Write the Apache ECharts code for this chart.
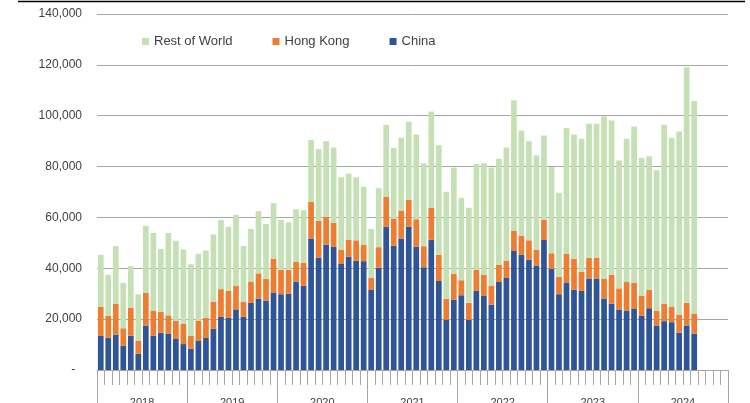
<!DOCTYPE html>
<html>
<head>
<meta charset="utf-8">
<script src="https://cdn.jsdelivr.net/npm/echarts@6/dist/echarts.min.js"></script>
<style>
  html, body { margin: 0; padding: 0; background: #fff; }
  #chart { width: 750px; height: 403px; }
</style>
</head>
<body>
<div id="chart"></div>
<script>
// monthly values, Jan 2018 - Aug 2024
const years = ['2018', '2019', '2020', '2021', '2022', '2023', '2024'];
const china = [
  13400, 12700, 13900, 9600, 13500, 6400, 17500, 13500, 14700, 14200, 12200, 10200,
  8400, 11400, 12600, 16300, 20900, 20500, 23600, 20900, 26400, 28100, 27300, 30500,
  29800, 30000, 34700, 33100, 51700, 44200, 49300, 48500, 41900, 44500, 43000, 42800,
  31500, 40200, 56300, 48900, 51700, 56300, 48500, 40400, 51200, 35000, 19800, 27700,
  29400, 19800, 31100, 29100, 25700, 34600, 36200, 46800, 45300, 43400, 41100, 51300,
  39800, 29800, 34200, 31600, 31100, 36000, 36000, 28100, 26100, 23800, 23400, 24000,
  21300, 24300, 17500, 19200, 18800, 14700, 17500, 14300
];
const hongKong = [
  11400, 8600, 12100, 6800, 11000, 5000, 12800, 9700, 8100, 7300, 7200, 7900,
  5000, 8000, 7900, 10500, 10900, 10700, 9500, 5900, 8200, 9900, 8600, 13300,
  9600, 9400, 7900, 9100, 14400, 14500, 10900, 9400, 5300, 6800, 8000, 6500,
  4700, 8100, 11900, 10700, 11000, 10600, 10800, 8300, 12600, 10300, 8200, 10200,
  5900, 6600, 8300, 8400, 7500, 6700, 6700, 7900, 7400, 7600, 6100, 7700,
  6100, 6800, 11500, 12100, 7600, 8100, 8100, 7700, 11300, 8300, 11200, 10200,
  7800, 7300, 5700, 6800, 6000, 7100, 8900, 7900
];
const restOfWorld = [
  20500, 16100, 22700, 17800, 16300, 18400, 26400, 30700, 24800, 32400, 31400, 29300,
  28200, 26300, 26500, 26500, 27200, 25100, 27900, 22000, 20900, 24400, 21500, 21800,
  19600, 18700, 20600, 20600, 24400, 28200, 29800, 29600, 28600, 25900, 24800, 22700,
  19300, 23200, 28200, 27700, 28600, 30700, 33300, 32600, 37800, 43100, 42100, 41700,
  32400, 37400, 41600, 43800, 46400, 41800, 44600, 51400, 41400, 39000, 37200, 33200,
  33900, 33100, 49400, 48900, 52200, 52700, 52700, 63900, 60700, 50300, 56300, 61600,
  54300, 52500, 55400, 70400, 66500, 72000, 92700, 83600
];

const months = [];
years.forEach(y => {
  for (let m = 1; m <= 12; m++) months.push(y + '-' + String(m).padStart(2, '0'));
});

const chart = echarts.init(document.getElementById('chart'));
const font = 'Liberation Sans, Arial, sans-serif';
const gridColor = '#a6a6a6';

const option = {
  animation: false,
  color: ['#c5e0b4', '#ed7d31', '#2f5597'],
  textStyle: { fontFamily: font },
  legend: {
    data: ['Rest of World', 'Hong Kong', 'China'],
    left: 137,
    top: 30,
    itemWidth: 7,
    itemHeight: 7,
    itemGap: 40,
    icon: 'rect',
    textStyle: { fontSize: 13, color: '#404040', fontFamily: font }
  },
  grid: { left: 97, right: 22, top: 14, bottom: 33, containLabel: false, outerBoundsMode: 'none' },
  xAxis: [
    {
      type: 'category',
      data: months,
      boundaryGap: true,
      axisLine: { show: true, lineStyle: { color: gridColor, width: 1 } },
      axisTick: { show: true, interval: 0, length: 15, lineStyle: { color: gridColor, width: 1 } },
      axisLabel: { show: false }
    },
    {
      type: 'category',
      data: years,
      position: 'bottom',
      boundaryGap: true,
      axisLine: { show: false },
      axisTick: { show: true, interval: 0, length: 36, lineStyle: { color: gridColor, width: 1 } },
      axisLabel: { interval: 0, margin: 27, fontSize: 11, color: '#404040', fontFamily: font }
    }
  ],
  yAxis: {
    type: 'value',
    min: 0,
    max: 140000,
    interval: 20000,
    axisLine: { show: false },
    axisTick: { show: false },
    splitLine: { lineStyle: { color: gridColor, width: 1 } },
    axisLabel: {
      margin: 15,
      fontSize: 12,
      color: '#404040',
      fontFamily: font,
      formatter: v => v === 0 ? '-  ' : v.toLocaleString('en-US')
    }
  },
  series: [
    { name: 'China', type: 'bar', stack: 'total', data: china, barCategoryGap: '24%', itemStyle: { color: '#2f5597' } },
    { name: 'Hong Kong', type: 'bar', stack: 'total', data: hongKong, itemStyle: { color: '#ed7d31' } },
    { name: 'Rest of World', type: 'bar', stack: 'total', data: restOfWorld, itemStyle: { color: '#c5e0b4' } }
  ],
  graphic: [
    {
      type: 'line',
      shape: { x1: 18, y1: 1.5, x2: 745, y2: 1.5 },
      style: { stroke: '#000', lineWidth: 1.5 }
    }
  ]
};

chart.setOption(option);
window.addEventListener('resize', () => chart.resize());
</script>
</body>
</html>
